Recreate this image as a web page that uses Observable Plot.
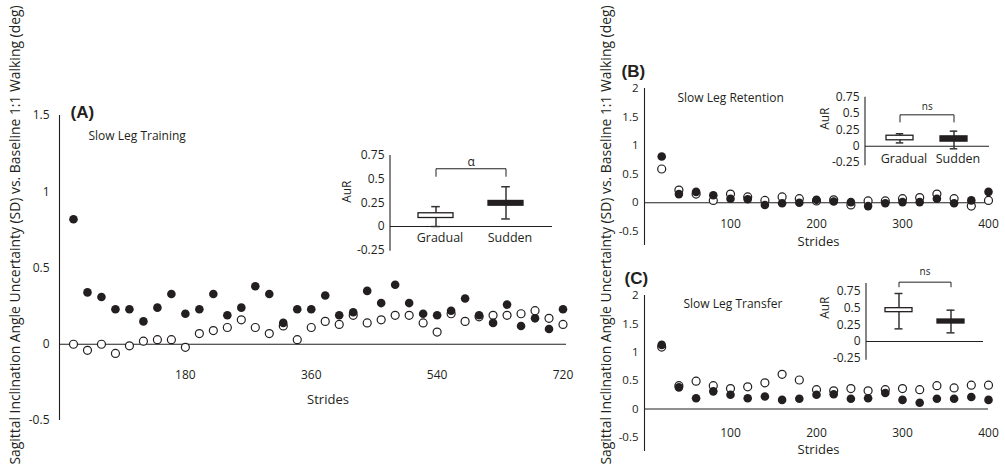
<!DOCTYPE html>
<html><head><meta charset="utf-8">
<script src="https://cdn.jsdelivr.net/npm/d3@7"></script>
<script src="https://cdn.jsdelivr.net/npm/@observablehq/plot@0.6"></script>
<style>
body{margin:0;background:#fff;}
#wrap{position:relative;width:1005px;height:475px;overflow:hidden;font-family:"Open Sans",sans-serif;color:#231f20;}
.p{position:absolute;}
.ylab{position:absolute;white-space:nowrap;font-size:13.9px;line-height:14px;transform:translate(-50%,-50%) rotate(-90deg);}
</style></head><body><div id="wrap"></div>
<script>
// ---------- data ----------
const stridesA = [20,40,60,80,100,120,140,160,180,200,220,240,260,280,300,320,340,360,380,400,420,440,460,480,500,520,540,560,580,600,620,640,660,680,700,720];
const trainingGradual = [0.00,-0.04,0.00,-0.06,-0.01,0.02,0.03,0.03,-0.02,0.07,0.09,0.11,0.16,0.11,0.07,0.12,0.03,0.11,0.15,0.13,0.19,0.14,0.16,0.19,0.19,0.14,0.08,0.20,0.15,0.18,0.19,0.19,0.20,0.22,0.17,0.13];
const trainingSudden  = [0.82,0.34,0.31,0.23,0.23,0.15,0.24,0.33,0.20,0.23,0.33,0.19,0.24,0.38,0.33,0.14,0.23,0.23,0.32,0.19,0.21,0.35,0.27,0.39,0.27,0.20,0.19,0.22,0.30,0.19,0.14,0.26,0.12,0.17,0.10,0.23];

const stridesBC = [20,40,60,80,100,120,140,160,180,200,220,240,260,280,300,320,340,360,380,400];
const retentionGradual = [0.59,0.22,0.15,0.04,0.15,0.10,0.04,0.10,0.07,0.03,0.05,-0.04,0.03,0.03,0.07,0.09,0.15,0.07,-0.06,0.04];
const retentionSudden  = [0.81,0.15,0.19,0.13,0.07,0.06,-0.04,-0.01,0.00,0.05,0.02,0.01,-0.06,-0.01,0.01,0.01,0.07,-0.01,0.04,0.19];
const transferGradual  = [1.09,0.41,0.49,0.41,0.36,0.39,0.46,0.61,0.51,0.34,0.32,0.36,0.32,0.34,0.36,0.34,0.41,0.37,0.42,0.42];
const transferSudden   = [1.13,0.38,0.19,0.31,0.25,0.19,0.22,0.16,0.18,0.25,0.26,0.18,0.19,0.28,0.16,0.11,0.18,0.18,0.21,0.16];

const groups = ["Gradual","Sudden"];
// AuR summaries: [Gradual, Sudden]
const aurTrainingLow  = [0.00,0.08], aurTrainingQ1 = [0.09,0.22], aurTrainingQ3 = [0.14,0.27], aurTrainingHigh = [0.21,0.42];
const aurRetentionLow = [0.05,-0.04], aurRetentionQ1 = [0.09,0.07], aurRetentionQ3 = [0.16,0.15], aurRetentionHigh = [0.19,0.23];
const aurTransferLow  = [0.19,0.13], aurTransferQ1 = [0.44,0.27], aurTransferQ3 = [0.50,0.33], aurTransferHigh = [0.72,0.47];
// significance brackets: [leg end, top]
const sigTraining = {label:"\u03b1", legs:0.53, top:0.61};
const sigRetention = {label:"ns", legs:0.37, top:0.48};
const sigTransfer = {label:"ns", legs:0.82, top:0.89};

const ticksA = [180,360,540,720];
const ticksBC = [100,200,300,400];
const yTicksA = [-0.5,0,0.5,1,1.5];
const yTicksBC = [-0.5,0,0.5,1,1.5,2];
const yTicksInset = [-0.25,0,0.25,0.5,0.75];
const yLabel = "Sagittal Inclination Angle Uncertainty (SD) vs. Baseline 1:1 Walking (deg)";

// ---------- helpers ----------
const INK = "#231f20";
const wrap = document.getElementById("wrap");
function place(node, left, top) {
  const d = document.createElement("div");
  d.className = "p"; d.style.left = left + "px"; d.style.top = top + "px";
  d.appendChild(node); wrap.appendChild(d);
}
const baseStyle = {background:"transparent", overflow:"visible", fontFamily:"Open Sans, sans-serif", fontSize:"12px", color:INK};
const fmt = d => String(d);

function mainPlot({strides, gradual, sudden, width, height, margins, xDomain, yDomain, xTicks, yTicks, tickPad, yTickSize, xdy, stridesDx, stridesDy, letter, letterDx, letterDy, title, titleDx, titleDy}) {
  const rows = strides.map((s, i) => ({stride:s, gradual:gradual[i], sudden:sudden[i]}));
  return Plot.plot({
    width, height, ...margins,
    style: baseStyle,
    x: {domain: xDomain},
    y: {domain: yDomain},
    marks: [
      Plot.ruleY([0], {stroke:INK, strokeWidth:1.1}),
      Plot.ruleX([0], {y1: yDomain[0], y2: yDomain[1], stroke:INK, strokeWidth:1.1}),
      Plot.axisY({ticks:yTicks, tickSize:0, tickPadding:tickPad, tickFormat:fmt, label:null, fontSize:yTickSize}),
      Plot.axisX({ticks:xTicks, tickSize:0, tickPadding:3, dy:xdy, tickFormat:fmt, label:null, fontSize:12}),
      Plot.dot(rows, {x:"stride", y:"gradual", r:4, fill:"white", stroke:INK, strokeWidth:1.2}),
      Plot.dot(rows, {x:"stride", y:"sudden", r:4.3, fill:INK}),
      Plot.text(["Strides"], {frameAnchor:"bottom", dx:stridesDx, dy:stridesDy, fontSize:13, fill:INK}),
      Plot.text([letter], {frameAnchor:"top-left", textAnchor:"start", dx:letterDx, dy:letterDy, fontSize:17, fontWeight:"bold", fontFamily:"Liberation Sans, Arial, sans-serif", fill:INK}),
      Plot.text([title], {frameAnchor:"top-left", textAnchor:"start", dx:titleDx, dy:titleDy, fontSize:12, fill:INK})
    ]
  });
}

function insetPlot({low, q1, q3, high, sig, width, height, margins, pInner, pOuter, axisExtent, showLabels, labelDy, aurDx, aurDy, capW, sigDy, sigSize}) {
  const rows = groups.map((g, i) => ({group:g, low:low[i], q1:q1[i], q3:q3[i], high:high[i]}));
  const bracket = [
    {group:groups[0], v:sig.legs}, {group:groups[0], v:sig.top},
    {group:groups[1], v:sig.top}, {group:groups[1], v:sig.legs}
  ];
  const frameW = width - margins.marginLeft - margins.marginRight;
  const step = frameW / (2 - pInner + 2 * pOuter);
  const bw = step * (1 - pInner);
  const capInset = (bw - capW) / 2;
  const axisLine = (index, scales, values, dims) =>
    d3.create("svg:line")
      .attr("x1", dims.marginLeft).attr("x2", dims.marginLeft)
      .attr("y1", scales.y(axisExtent[0])).attr("y2", scales.y(axisExtent[1]))
      .attr("stroke", INK).attr("stroke-width", 1.1).node();
  const marks = [
    Plot.ruleY([0], {stroke:INK, strokeWidth:1.1}),
    axisLine,
    Plot.axisY({ticks:yTicksInset, tickSize:0, tickPadding:6, tickFormat:fmt, label:null, fontSize:12}),
    Plot.text(["AuR"], {frameAnchor:"left", rotate:-90, dx:aurDx, dy:aurDy, fontSize:12, fill:INK}),
    Plot.ruleX(rows, {x:"group", y1:"low", y2:"high", stroke:"#333", strokeWidth:1.5}),
    Plot.tickY(rows, {x:"group", y:"high", stroke:"#333", strokeWidth:1.5, insetLeft:capInset, insetRight:capInset}),
    Plot.tickY(rows, {x:"group", y:"low", stroke:"#333", strokeWidth:1.5, insetLeft:capInset, insetRight:capInset}),
    Plot.barY(rows, {filter:d => d.group === "Gradual", x:"group", y1:"q1", y2:"q3", fill:"white", stroke:INK, strokeWidth:1.3}),
    Plot.barY(rows, {filter:d => d.group === "Sudden", x:"group", y1:"q1", y2:"q3", fill:INK, stroke:INK, strokeWidth:1.3}),
    Plot.line(bracket, {x:"group", y:"v", stroke:INK, strokeWidth:1}),
    Plot.text([sig.label], {x:() => groups[0], y:() => sig.top, dx: step/2, dy:sigDy, fontSize:sigSize, fill:INK})
  ];
  if (showLabels) marks.push(Plot.axisX({tickSize:0, tickPadding:3, dy:labelDy, dx:4, label:null, fontSize:12.5}));
  return Plot.plot({
    width, height, ...margins,
    style: baseStyle,
    x: {type:"band", domain:groups, paddingInner:pInner, paddingOuter:pOuter, axis: showLabels ? undefined : null},
    y: {domain:[-0.25, 0.75]},
    marks
  });
}

// ---------- panel A ----------
place(mainPlot({
  strides:stridesA, gradual:trainingGradual, sudden:trainingSudden,
  width:600, height:475, margins:{marginTop:115, marginBottom:55, marginLeft:59, marginRight:34},
  xDomain:[0,725], yDomain:[-0.5,1.5], xTicks:ticksA, yTicks:yTicksA, tickPad:10, yTickSize:12, xdy:-53,
  stridesDx:15, stridesDy:-17, letter:"(A)", letterDx:11, letterDy:-10,
  title:"Slow Leg Training", titleDx:29, titleDy:16
}), 0, 0);
place(insetPlot({
  low:aurTrainingLow, q1:aurTrainingQ1, q3:aurTrainingQ3, high:aurTrainingHigh, sig:sigTraining,
  width:240, height:130, margins:{marginTop:25, marginBottom:10.3, marginLeft:60, marginRight:18},
  pInner:0.496, pOuter:0.40, axisExtent:[-0.26,0.75], showLabels:true, labelDy:-19.7,
  aurDx:-43, aurDy:0, capW:9, sigDy:-7, sigSize:12
}), 330, 130);

// ---------- panel B ----------
place(mainPlot({
  strides:stridesBC, gradual:retentionGradual, sudden:retentionSudden,
  width:425, height:260, margins:{marginTop:88, marginBottom:15, marginLeft:64, marginRight:17},
  xDomain:[0,400], yDomain:[-0.75,2], xTicks:ticksBC, yTicks:yTicksBC, tickPad:6, yTickSize:11.5, xdy:-29,
  stridesDx:2, stridesDy:0, letter:"(B)", letterDx:-23, letterDy:-24,
  title:"Slow Leg Retention", titleDx:33, titleDy:5
}), 580, 0);
place(insetPlot({
  low:aurRetentionLow, q1:aurRetentionQ1, q3:aurRetentionQ3, high:aurRetentionHigh, sig:sigRetention,
  width:205, height:110, margins:{marginTop:26.7, marginBottom:18, marginLeft:65, marginRight:16},
  pInner:0.495, pOuter:0.385, axisExtent:[-0.3,0.75], showLabels:true, labelDy:-11,
  aurDx:-40, aurDy:0, capW:8, sigDy:-8, sigSize:10
}), 800, 70);

// ---------- panel C ----------
place(mainPlot({
  strides:stridesBC, gradual:transferGradual, sudden:transferSudden,
  width:425, height:215, margins:{marginTop:35, marginBottom:24, marginLeft:64, marginRight:17},
  xDomain:[0,400], yDomain:[-0.75,2], xTicks:ticksBC, yTicks:yTicksBC, tickPad:6, yTickSize:11.5, xdy:-26,
  stridesDx:2, stridesDy:2, letter:"(C)", letterDx:-20, letterDy:-24,
  title:"Slow Leg Transfer", titleDx:39, titleDy:4
}), 580, 260);
place(insetPlot({
  low:aurTransferLow, q1:aurTransferQ1, q3:aurTransferQ3, high:aurTransferHigh, sig:sigTransfer,
  width:205, height:110, margins:{marginTop:31, marginBottom:12.3, marginLeft:66, marginRight:22},
  pInner:0.48, pOuter:0.365, axisExtent:[-0.28,0.87], showLabels:false, labelDy:0,
  aurDx:-41, aurDy:-6, capW:8, sigDy:-10, sigSize:10
}), 800, 260);

// ---------- shared y-axis titles ----------
[[15,235],[606,235]].forEach(([x,y]) => {
  const d = document.createElement("div");
  d.className = "ylab"; d.textContent = yLabel;
  d.style.left = x + "px"; d.style.top = y + "px";
  wrap.appendChild(d);
});
</script></body></html>
